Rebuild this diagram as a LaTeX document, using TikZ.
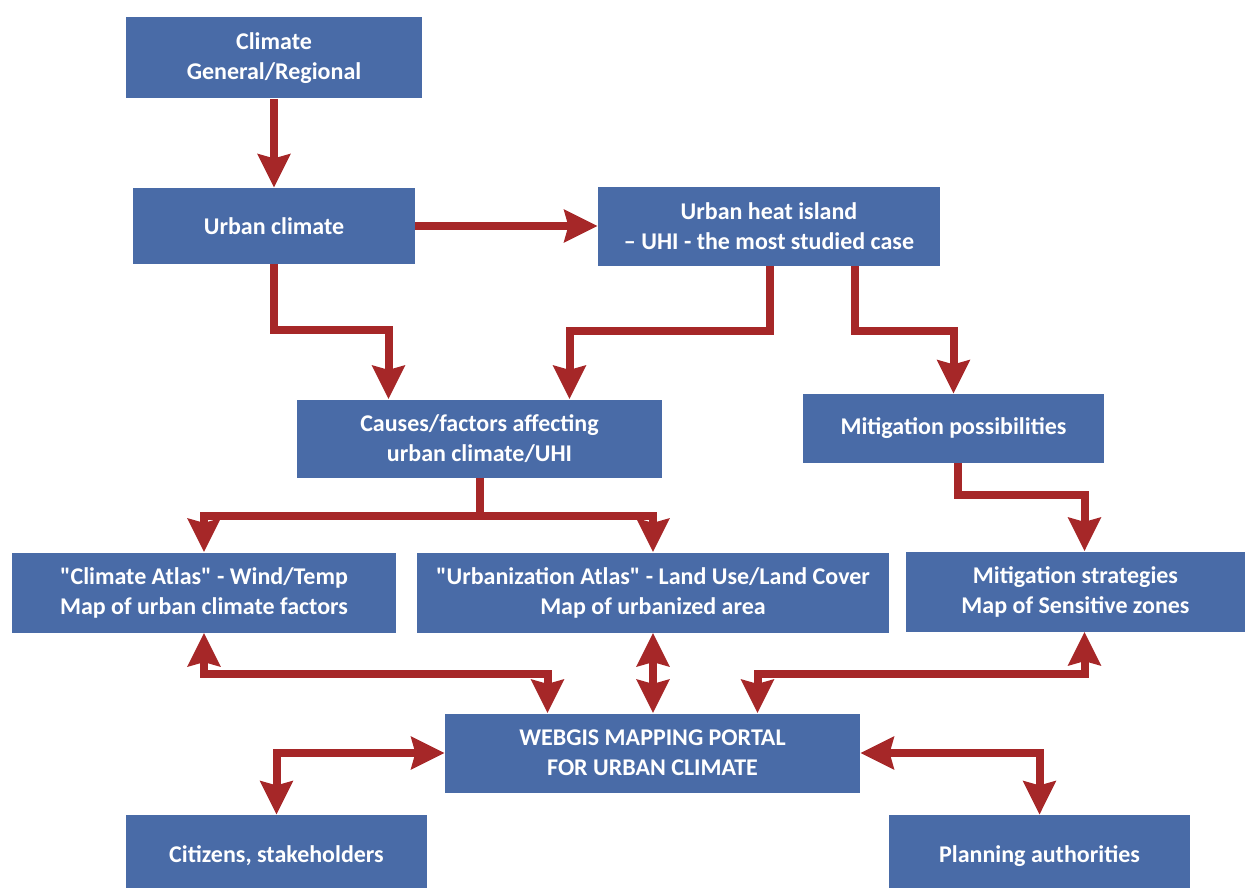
\documentclass[tikz,border=0pt]{standalone}
\usepackage{fontspec}
\setmainfont{Carlito}
\usetikzlibrary{calc,arrows.meta}
\definecolor{boxblue}{RGB}{73,107,167}
\definecolor{arrowred}{RGB}{166,39,40}
\tikzset{
	box/.style={fill=boxblue, text=white, align=center, inner sep=0pt,
		font=\bfseries\fontsize{18}{22.5}\selectfont},
	flow/.style={draw=arrowred, line width=6pt, line join=miter,
		-{Stealth[length=25pt,width=24pt,inset=3pt]}},
	flowboth/.style={flow, {Stealth[length=25pt,width=24pt,inset=3pt]}-{Stealth[length=25pt,width=24pt,inset=3pt]}}
}

\begin{document}
\begin{tikzpicture}[x=0.75pt, y=-0.75pt]
		%%%%% START %%%%%
		\useasboundingbox (0, 0) rectangle (1245, 888);
		
		\node[box, minimum width=222pt, minimum height=60.75pt] (climate) at (274, 58) {Climate\\General/Regional};
		\node[box, minimum width=211.5pt, minimum height=57pt] (urban) at (274, 226) {Urban climate};
		\node[box, minimum width=256.5pt, minimum height=59.25pt] (uhi) at (769, 226) {Urban heat island\\-- UHI - the most studied case};
		
		\node[box, minimum width=273.75pt, minimum height=58.5pt] (causes) at (479.5, 438.5) {Causes/factors affecting\\urban climate/UHI};
		\node[box, minimum width=225.75pt, minimum height=51.75pt] (mitpos) at (953.5, 428.5) {Mitigation possibilities};
		
		\node[box, minimum width=288pt, minimum height=60pt] (atlas) at (204, 592.5) {\textquotedbl Climate Atlas\textquotedbl{} - Wind/Temp\\Map of urban climate factors};
		\node[box, minimum width=354pt, minimum height=60pt] (urbatlas) at (653, 592.5) {\textquotedbl Urbanization Atlas\textquotedbl{} - Land Use/Land Cover\\Map of urbanized area};
		\node[box, minimum width=254.25pt, minimum height=60pt] (mitstrat) at (1075.5, 591.5) {Mitigation strategies\\Map of Sensitive zones};
		
		\node[box, minimum width=311.25pt, minimum height=59.25pt] (portal) at (652.5, 753) {WEBGIS MAPPING PORTAL\\FOR URBAN CLIMATE};
		\node[box, minimum width=225.75pt, minimum height=61.5pt] (citizens) at (276.5, 856) {Citizens, stakeholders};
		\node[box, minimum width=225.75pt, minimum height=61.5pt] (planning) at (1039.5, 856) {Planning authorities};
		
		% top part
		\draw[flow] (climate) -- (urban);
		\draw[flow] (urban) -- (uhi);
		\draw[flow] (urban.south) -- ++(0, 66) -| ($(causes.north)+(-91, 0)$);
		\draw[flow] ($(uhi.south)+(1, 0)$) -- ++(0, 65) -| ($(causes.north)+(90, 0)$);
		\draw[flow] ($(uhi.south)+(86, 0)$) -- ++(0, 65) -| (mitpos.north);
		
		% atlases
		\draw[flow] (causes.south) -- ++(0, 38) -| (atlas.north);
		\draw[flow] (causes.south) -- ++(0, 38) -| (urbatlas.north);
		\draw[flow] ($(mitpos.south)+(4, 0)$) -- ++(0, 32) -| ($(mitstrat.north)+(9, 0)$);
		
		% portal
		\draw[flowboth] (atlas.south) -- ++(0, 41) -| ($(portal.north)+(-105, 0)$);
		\draw[flowboth] (urbatlas.south) -- (urbatlas.south |- portal.north);
		\draw[flowboth] ($(mitstrat.south)+(9, 0)$) -- ++(0, 42) -| ($(portal.north)+(105, 0)$);
		\draw[flowboth] (portal.west) -| (citizens.north);
		\draw[flowboth] (portal.east) -| (planning.north);
		
		%%%%% END %%%%%
\end{tikzpicture}
\end{document}
